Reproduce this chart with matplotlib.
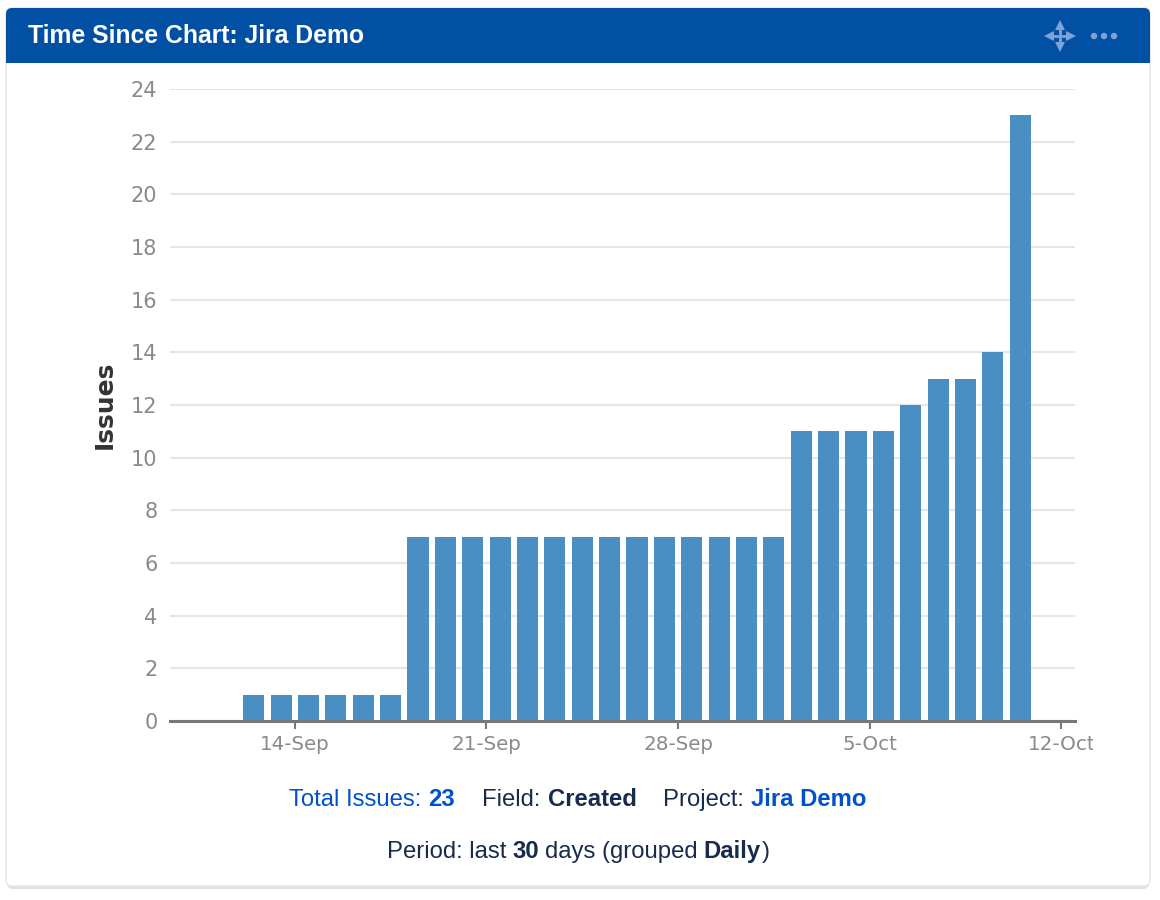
import matplotlib
matplotlib.use("Agg")
import datetime as dt
import matplotlib.pyplot as plt
import matplotlib.dates as mdates
from matplotlib.patches import FancyBboxPatch, Rectangle, Circle

# data lest av bildet
dager = ["2018-09-12", "2018-09-13", "2018-09-14", "2018-09-15", "2018-09-16",
         "2018-09-17", "2018-09-18", "2018-09-19", "2018-09-20", "2018-09-21",
         "2018-09-22", "2018-09-23", "2018-09-24", "2018-09-25", "2018-09-26",
         "2018-09-27", "2018-09-28", "2018-09-29", "2018-09-30", "2018-10-01",
         "2018-10-02", "2018-10-03", "2018-10-04", "2018-10-05", "2018-10-06",
         "2018-10-07", "2018-10-08", "2018-10-09", "2018-10-10"]
issues = [1, 1, 1, 1, 1, 1,
          7, 7, 7, 7, 7, 7, 7, 7, 7, 7, 7, 7, 7, 7,
          11, 11, 11, 11, 12, 13, 13, 14, 23]
tick_dager = ["2018-09-14", "2018-09-21", "2018-09-28", "2018-10-05", "2018-10-12"]
tick_tekst = ["14-Sep", "21-Sep", "28-Sep", "5-Oct", "12-Oct"]
y_ticks = [0, 2, 4, 6, 8, 10, 12, 14, 16, 18, 20, 22, 24]

blaa_tekst = "#0052cc"
moerk_tekst = "#172b4d"
soyle_farge = "#4a8fc4"

fig = plt.figure(figsize=(11.6, 9), dpi=100)
fig.patch.set_facecolor("white")

# bakgrunn i pikselkoordinater
bg = fig.add_axes([0, 0, 1, 1], zorder=0)
bg.set_xlim(0, 1160)
bg.set_ylim(900, 0)
bg.axis("off")

# skygge og kort
bg.add_patch(FancyBboxPatch((7, 11), 1142, 878, boxstyle="round,pad=0,rounding_size=6",
                            facecolor="#dfe1e6", edgecolor="none"))
bg.add_patch(FancyBboxPatch((6, 8), 1144, 878, boxstyle="round,pad=0,rounding_size=6",
                            facecolor="white", edgecolor="#e4e6ea", linewidth=1))
# header
bg.add_patch(FancyBboxPatch((6, 8), 1144, 55, boxstyle="round,pad=0,rounding_size=6",
                            facecolor="#0150a4", edgecolor="none"))
bg.add_patch(Rectangle((6, 40), 1144, 23, facecolor="#0150a4", edgecolor="none"))
bg.text(28, 36, "Time Since Chart: Jira Demo", color="white", fontsize=17.8,
        fontweight="bold", family="Liberation Sans", va="center", ha="left")

# ikoner
ikon = "#7ea3d3"
cx, cy = 1060, 35.5
bg.plot([cx - 11, cx + 11], [cy, cy], color=ikon, lw=2.0, solid_capstyle="butt")
bg.plot([cx, cx], [cy - 11, cy + 11], color=ikon, lw=2.0, solid_capstyle="butt")
for dx, dy, m in [(11, 0, ">"), (-11, 0, "<"), (0, -11, "^"), (0, 11, "v")]:
    bg.plot([cx + dx], [cy + dy], marker=m, color=ikon, markersize=6.5,
            markeredgewidth=0)
for x in [1094, 1104, 1114]:
    bg.add_patch(Circle((x, 36), 3.2, facecolor=ikon, edgecolor="none"))

# hovedplott
ax = fig.add_axes([170 / 1160, 1 - 721 / 900, 905 / 1160, 632 / 900], zorder=1)
ax.patch.set_alpha(0)

xs = [mdates.date2num(dt.datetime.strptime(d, "%Y-%m-%d")) + 0.5 for d in dager]
ax.bar(xs, issues, width=0.77, color=soyle_farge, zorder=2)

tx = [mdates.date2num(dt.datetime.strptime(d, "%Y-%m-%d")) for d in tick_dager]
ax.set_xticks(tx)
ax.set_xticklabels(tick_tekst)
ax.set_xlim(tx[0] - 4.56, tx[-1] + 0.5)
ax.set_ylim(0, 24)
ax.set_yticks(y_ticks)

for s in ["top", "right", "left"]:
    ax.spines[s].set_visible(False)
ax.spines["bottom"].set_color("#777777")
ax.spines["bottom"].set_linewidth(2.2)
ax.spines["bottom"].set_zorder(3)

ax.grid(axis="y", color="#e6e6e6", linewidth=1.5, zorder=0)
ax.set_axisbelow(True)
ax.tick_params(axis="y", length=0, pad=9, labelsize=15, labelcolor="#8a8a8a")
ax.tick_params(axis="x", length=6, width=1.5, color="#777777", pad=4,
               labelsize=14.3, labelcolor="#8a8a8a")

ax.set_ylabel("Issues", fontsize=18, fontweight="bold", color="#333333")
ax.yaxis.set_label_coords(-0.059, 0.5)

# dekk over slutten av siste etikett, den er kuttet i originalen
topp = fig.add_axes([0, 0, 1, 1], zorder=2)
topp.set_xlim(0, 1160)
topp.set_ylim(900, 0)
topp.axis("off")
topp.patch.set_alpha(0)
topp.add_patch(Rectangle((1093, 728), 45, 32, facecolor="white", edgecolor="none"))

# bunntekst med blandet stil
renderer = fig.canvas.get_renderer()


def tekstlinje(biter, y):
    objs = []
    total = 0
    for tekst, farge, vekt, gap in biter:
        t = bg.text(0, y, tekst, color=farge, fontweight=vekt, fontsize=17.2,
                    family="Liberation Sans", va="baseline", ha="left")
        w = t.get_window_extent(renderer).width
        objs.append((t, w, gap))
        total += w + gap
    total -= objs[-1][2]
    x = 578 - total / 2
    for t, w, gap in objs:
        t.set_x(x)
        x += w + gap


tekstlinje([("Total Issues:", blaa_tekst, "normal", 7),
            ("23", blaa_tekst, "bold", 27),
            ("Field:", moerk_tekst, "normal", 7),
            ("Created", moerk_tekst, "bold", 27),
            ("Project:", moerk_tekst, "normal", 7),
            ("Jira Demo", blaa_tekst, "bold", 0)], 806)

tekstlinje([("Period: last", moerk_tekst, "normal", 6),
            ("30", moerk_tekst, "bold", 6),
            ("days (grouped", moerk_tekst, "normal", 6),
            ("Daily", moerk_tekst, "bold", 1),
            (")", moerk_tekst, "normal", 0)], 858)

fig.savefig("out.png", dpi=100)
